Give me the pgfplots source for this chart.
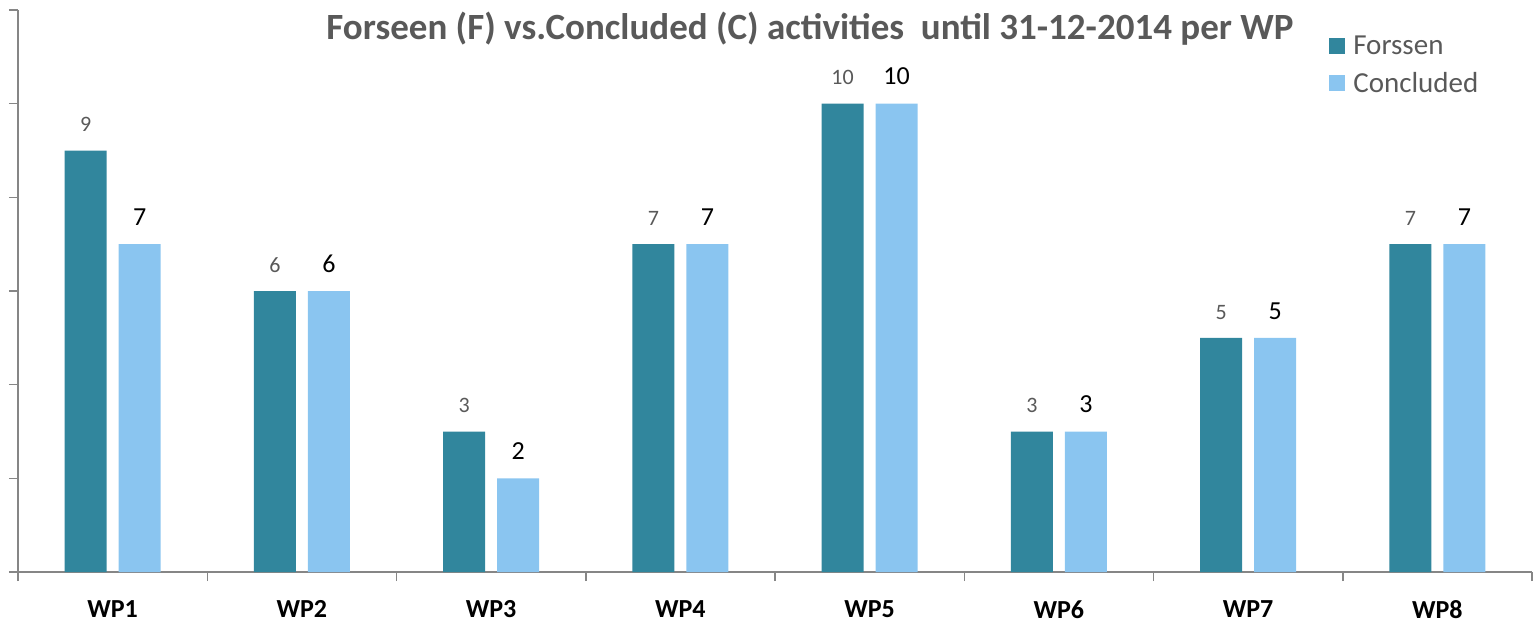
\documentclass[border=0pt]{standalone}
\usepackage{pgfplots}
\pgfplotsset{compat=1.18}
\usepackage{fontspec}
\setmainfont{Carlito}
\definecolor{darkteal}{RGB}{49,134,157}
\definecolor{lightblue}{RGB}{138,197,240}
\definecolor{axgray}{RGB}{134,134,134}
\definecolor{txtgray}{RGB}{89,89,89}
\begin{document}
\begin{tikzpicture}
\begin{axis}[name=ax,
  scale only axis, width=1514pt, height=562pt,
  xmin=0.5, xmax=8.5, ymin=0, ymax=12,
  ybar=12pt, bar width=42pt,
  axis x line*=bottom, axis y line*=left,
  axis line style={axgray, line width=1.5pt},
  every tick/.style={axgray, line width=1.5pt},
  tick align=outside,
  xtick={1,...,8}, xticklabels={WP1,WP2,WP3,WP4,WP5,WP6,WP7,WP8},
  major x tick style={draw=none},
  minor xtick={0.5,1.5,...,8.5},
  minor tick length=9pt, major tick length=9pt,
  ytick={0,2,...,12}, yticklabels={},
  xticklabel style={font=\fontsize{26}{30}\selectfont\bfseries, text=black, yshift=-16pt},
  /pgf/number format/assume math mode=true,
  clip=false,
  legend style={at={(rel axis cs:0.864,0.962)}, anchor=north west, draw=none, fill=none,
    font=\fontsize{29}{33}\selectfont, text=txtgray, row sep=13pt,
    /tikz/every odd column/.append style={column sep=6pt}},
  legend cell align=left,
  legend image code/.code={\fill[#1] (0pt,-8pt) rectangle (16pt,8pt);},
  nodes near coords,
]
\addplot[fill=darkteal, draw=none,
  every node near coord/.append style={font=\fontsize{22}{26}\selectfont, text=txtgray, yshift=15pt}]
  coordinates {(1,9) (2,6) (3,3) (4,7) (5,10) (6,3) (7,5) (8,7)};
\addplot[fill=lightblue, draw=none,
  every node near coord/.append style={font=\fontsize{26}{30}\selectfont, text=black, yshift=15pt}]
  coordinates {(1,7) (2,6) (3,2) (4,7) (5,10) (6,3) (7,5) (8,7)};
\legend{Forssen, Concluded}
\node[font=\fontsize{37}{42}\selectfont\bfseries, text=txtgray] at (axis cs:4.685,11.6) {Forseen (F) vs.Concluded (C) activities\ \ until 31-12-2014 per WP};
\end{axis}
\pgfresetboundingbox
\path[use as bounding box] ([xshift=-18pt,yshift=-51pt]ax.south west) rectangle ([xshift=1pt,yshift=10pt]ax.north east);
\end{tikzpicture}
\end{document}
